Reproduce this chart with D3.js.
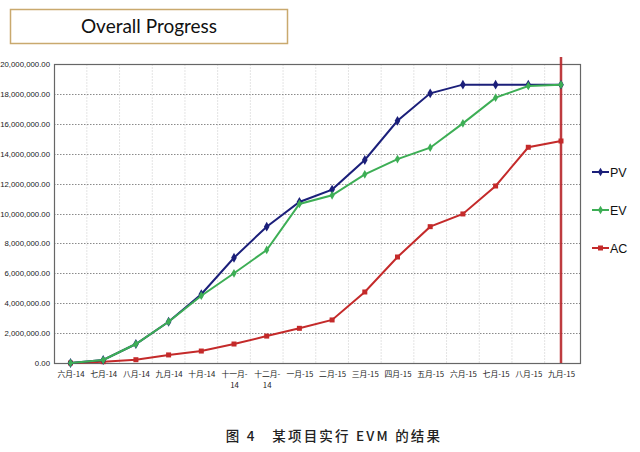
<!DOCTYPE html>
<html><head><meta charset="utf-8">
<script src="https://cdn.jsdelivr.net/npm/d3@7"></script>
<style>body{margin:0;background:#fff;}svg{display:block;}</style>
</head><body>
<script>
const categories = ["六月-14","七月-14","八月-14","九月-14","十月-14","十一月-14","十二月-14","一月-15","二月-15","三月-15","四月-15","五月-15","六月-15","七月-15","八月-15","九月-15"];
const pvValues = [0, 200000, 1270000, 2760000, 4600000, 7040000, 9120000, 10770000, 11600000, 13580000, 16200000, 18040000, 18620000, 18620000, 18620000, 18620000];
const evValues = [0, 200000, 1270000, 2760000, 4500000, 6000000, 7560000, 10640000, 11220000, 12620000, 13640000, 14400000, 16030000, 17750000, 18530000, 18620000];
const acValues = [0, 90000, 220000, 540000, 800000, 1270000, 1800000, 2320000, 2880000, 4750000, 7090000, 9120000, 9970000, 11840000, 14430000, 14850000];
const yTicks = [0,2000000,4000000,6000000,8000000,10000000,12000000,14000000,16000000,18000000,20000000];
const seriesNames = ["PV","EV","AC"];
const seriesColors = ["#1b1f7a","#3dae55","#c42a2a"];
const statusDate = "九月-15";

const W=640,H=452;
const svg=d3.select("body").append("svg").attr("width",W).attr("height",H);

// title box
svg.append("rect").attr("x",10.5).attr("y",9.5).attr("width",277).attr("height",34)
  .attr("fill","#fff").attr("stroke","#c9a96e").attr("stroke-width",1.5);
svg.append("text").attr("x",149).attr("y",32.5).attr("text-anchor","middle")
  .attr("font-family","Lato, 'Open Sans', sans-serif").attr("font-size",19).attr("fill","#111")
  .text("Overall Progress");

const pLeft=54,pRight=580,pTop=64,pBottom=363;
const x=d3.scalePoint().domain(categories).range([70.5,561]);
const step=x.step();
const y=d3.scaleLinear().domain([0,20000000]).range([pBottom,pTop]);

// vertical light gridlines at category boundaries
svg.append("g").selectAll("line").data(categories.slice(1)).join("line")
  .attr("x1",d=>x(d)-step/2).attr("x2",d=>x(d)-step/2).attr("y1",pTop).attr("y2",pBottom)
  .attr("stroke","#e4e4e4").attr("stroke-width",1).attr("stroke-dasharray","2,1");
// horizontal gridlines
svg.append("g").selectAll("line").data(yTicks.slice(1,-1)).join("line")
  .attr("x1",pLeft).attr("x2",pRight).attr("y1",d=>Math.round(y(d))+0.5).attr("y2",d=>Math.round(y(d))+0.5)
  .attr("stroke","#8a8a8a").attr("stroke-width",1).attr("stroke-dasharray","1.5,1.5");

// plot border
svg.append("rect").attr("x",pLeft+0.5).attr("y",pTop+0.5).attr("width",pRight-pLeft).attr("height",pBottom-pTop)
  .attr("fill","none").attr("stroke","#666").attr("stroke-width",1.2);

// y axis
const yAxis=d3.axisLeft(y).tickValues(yTicks).tickSize(0).tickPadding(4)
  .tickFormat(d=>d3.format(",.2f")(d));
const ga=svg.append("g").attr("transform",`translate(${pLeft},0)`).call(yAxis);
ga.select(".domain").remove();
ga.selectAll("text").attr("font-family","'Liberation Sans', Arial, sans-serif").attr("font-size",7.8).attr("fill","#222");

// x axis
const xAxis=d3.axisBottom(x).tickSize(0).tickPadding(8);
const gx=svg.append("g").attr("transform",`translate(0,${pBottom})`).call(xAxis);
gx.select(".domain").remove();
gx.selectAll("text").attr("font-family","'Noto Sans CJK SC', sans-serif").attr("font-size",7.8).attr("fill","#222")
  .each(function(d){
    const t=d3.select(this);
    if(d.length>5){
      const parts=d.split("-");
      t.text(null);
      t.append("tspan").attr("x",0).attr("dy","0.71em").text(parts[0]+"-");
      t.append("tspan").attr("x",0).attr("dy","1.5em").text(parts[1]);
      t.attr("dy",null).attr("y",8);
    }
  });

// status line
svg.append("line").attr("x1",x(statusDate)).attr("x2",x(statusDate)).attr("y1",57).attr("y2",pBottom)
  .attr("stroke","#b8262b").attr("stroke-width",2.5).attr("opacity",0.9);

const allSeries=[pvValues,evValues,acValues];
const line=d3.line().x((d,i)=>x(categories[i])).y(d=>y(d));
const order=[2,0,1];
order.forEach(k=>{
  const vals=allSeries[k], col=seriesColors[k];
  svg.append("path").datum(vals).attr("d",line).attr("fill","none").attr("stroke",col).attr("stroke-width",2);
  const g=svg.append("g");
  if(k===0){
    g.selectAll("path").data(vals).join("path")
      .attr("transform",(d,i)=>`translate(${x(categories[i])},${y(d)})`)
      .attr("d",d3.symbol(d3.symbolDiamond,28)()).attr("fill",col);
  } else if(k===1){
    g.selectAll("path").data(vals).join("path")
      .attr("transform",(d,i)=>`translate(${x(categories[i])},${y(d)})`)
      .attr("d",d3.symbol(d3.symbolDiamond,22)()).attr("fill",col);
  } else {
    g.selectAll("rect").data(vals).join("rect")
      .attr("x",(d,i)=>x(categories[i])-2.5).attr("y",d=>y(d)-2.5).attr("width",5).attr("height",5).attr("fill",col);
  }
});

// legend
const legY=[172,210,248];
seriesNames.forEach((n,i)=>{
  const g=svg.append("g").attr("transform",`translate(0,${legY[i]})`);
  g.append("line").attr("x1",592).attr("x2",609).attr("stroke",seriesColors[i]).attr("stroke-width",2);
  if(i===2) g.append("rect").attr("x",598).attr("y",-2.5).attr("width",5).attr("height",5).attr("fill",seriesColors[i]);
  else g.append("path").attr("transform","translate(600.5,0)").attr("d",d3.symbol(d3.symbolDiamond,22)()).attr("fill",seriesColors[i]);
  g.append("text").attr("x",610).attr("y",4.5).attr("font-family","'Liberation Sans', Arial, sans-serif").attr("font-size",12.5).attr("fill","#111").text(n);
});

// caption
svg.append("text").attr("x",334).attr("y",441).attr("text-anchor","middle")
  .attr("font-family","'Noto Sans CJK SC', sans-serif").attr("font-size",13.5).attr("font-weight",500).attr("fill","#222")
  .attr("letter-spacing",2.2).attr("xml:space","preserve")
  .text("图 4   某项目实行 EVM 的结果");
</script>
</body></html>
